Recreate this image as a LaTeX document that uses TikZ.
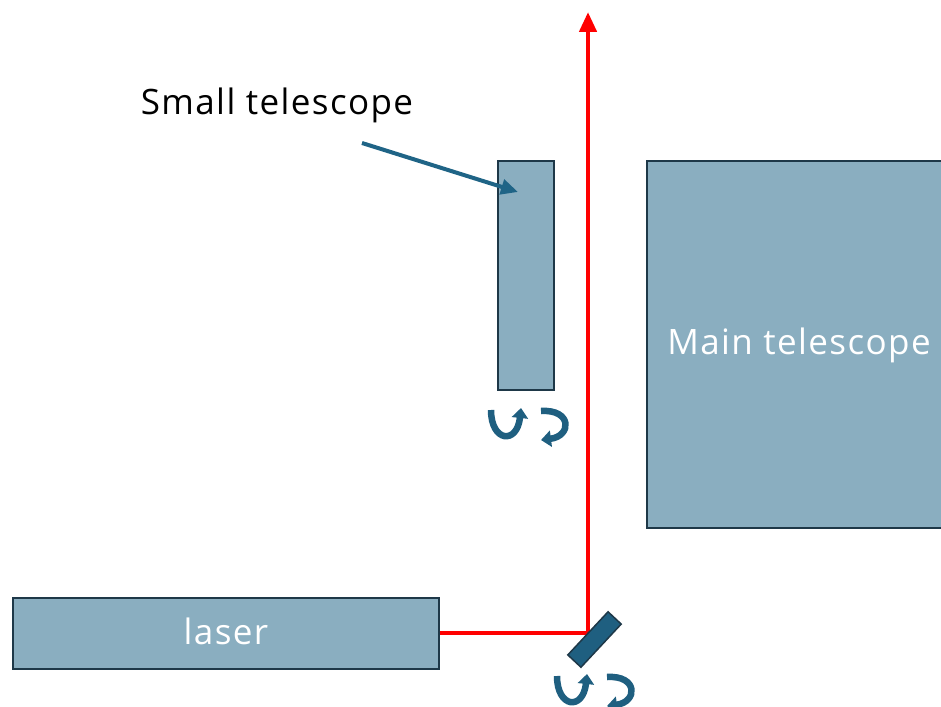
\documentclass[tikz,border=0pt]{standalone}
\usepackage{fontspec}
\setmainfont{Open Sans}[LetterSpace=4]
\usetikzlibrary{arrows.meta}
\definecolor{boxfill}{HTML}{8AAEC0}
\definecolor{boxline}{HTML}{1E3848}
\definecolor{teal}{HTML}{1F5F80}
\definecolor{pointc}{HTML}{1F6486}
\definecolor{beamred}{HTML}{FF0000}
\tikzset{
  box/.style={draw=boxline, line width=1.5pt, fill=boxfill, inner sep=0pt, anchor=north west},
  whitelabel/.style={text=white, font=\fontsize{35}{40}\selectfont, inner sep=0pt, anchor=base},
  blacklabel/.style={text=black, font=\fontsize{35}{40}\selectfont, inner sep=0pt, anchor=base},
  beam/.style={draw=beamred, line width=4.5pt, miter limit=10},
  pointer/.style={draw=pointc, line width=4pt, -{Triangle[width=15pt,length=17pt]}},
  mirrorbox/.style={draw=boxline, line width=1.5pt, fill=teal, inner sep=0pt, minimum width=59pt, minimum height=18pt},
  rotarrow/.style={draw=teal, line width=6.5pt, -{Triangle[width=16pt,length=10pt]}},
  rot/.pic={
    \draw[rotarrow] (3,5) .. controls (3,37) and (29,40) .. (33,3);
    \draw[rotarrow] (53,6) .. controls (84,4) and (84,31) .. (53,35);
  }
}
\begin{document}
\begin{tikzpicture}[x=1pt,y=-1pt]
\useasboundingbox[fill=white] (0,0) rectangle (941,706);
\node[box, minimum width=56pt, minimum height=229pt] (small) at (497,160) {};
\node[box, minimum width=300pt, minimum height=367pt] (main) at (646,160) {};
\node[whitelabel] (mainlabel) at (799,354) {Main telescope};
\node[box, minimum width=426pt, minimum height=71pt] (laser) at (12,597) {};
\node[whitelabel] (laserlabel) at (226,644) {laser};
\node[blacklabel] (smalllabel) at (277,114) {Small telescope};
\coordinate (m) at (588,633);
\coordinate (top) at (588,12);
\draw[beam, -{Triangle[width=17pt,length=20pt]}] (laser.east |- m) -- (m) -- (top);
\node[mirrorbox, rotate=47] (mirror) at (594.5,639.5) {};
\coordinate (pstart) at (362,143);
\coordinate (pend) at (518,192);
\draw[pointer] (pstart) -- (pend);
\pic (rotA) at (488,405) {rot};
\pic (rotB) at (554,671) {rot};
\end{tikzpicture}
\end{document}
